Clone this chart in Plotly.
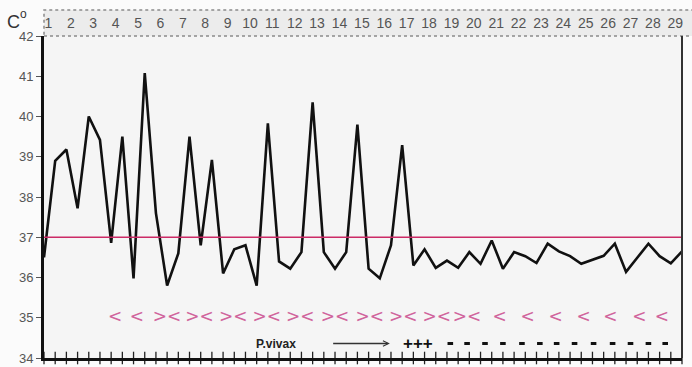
import plotly.graph_objects as go

# ---- data ----
reading_index = list(range(58))  # two readings per day, 29 days
temperature = [36.5, 38.9, 39.18, 37.72, 40.0, 39.42, 36.86, 39.5, 35.98, 41.08,
               37.6, 35.8, 36.6, 39.5, 36.8, 38.92, 36.1, 36.7, 36.8, 35.8,
               39.83, 36.4, 36.22, 36.63, 40.35, 36.63, 36.22, 36.63, 39.8, 36.22,
               35.98, 36.8, 39.29, 36.3, 36.7, 36.24, 36.42, 36.24, 36.63, 36.34,
               36.92, 36.22, 36.63, 36.53, 36.36, 36.84, 36.65, 36.53, 36.34, 36.44,
               36.54, 36.84, 36.14, 36.49, 36.84, 36.53, 36.35, 36.65]
normal_temp = 37
days = list(range(1, 30))
day_tick_pos = [2 * (d - 1) + 0.4 for d in days]
y_ticks = [34, 35, 36, 37, 38, 39, 40, 41, 42]

symbol_x = [6.35, 8.3, 11.0, 13.9, 16.9, 19.9, 22.9, 26.0, 29.1, 32.1,
            35.1, 37.8, 40.7, 43.2, 45.7, 48.2, 50.6, 53.2, 55.2]
symbol_text = ["<", "<"] + ["><"] * 10 + ["<"] * 7
symbol_level = 35

parasite_level = 34.36
parasite_label = "P.vivax"
parasite_label_x = 20.7
arrow_from_x, arrow_to_x = 25.7, 30.9
plus_text = "+++"
plus_x = 33.4
negative_x = [36.3, 37.8, 39.4, 41.0, 42.7, 44.3, 45.8, 47.4, 49.1, 50.8, 52.4, 54.0, 55.5]

fig = go.Figure()

# bottom axis cross ticks
fig.add_trace(go.Scatter(
    x=reading_index, y=[34] * len(reading_index), mode="markers",
    marker=dict(symbol="line-ns", size=9, line=dict(color="#222", width=1.3)),
    cliponaxis=False, hoverinfo="skip", showlegend=False))

# temperature curve
fig.add_trace(go.Scatter(
    x=reading_index, y=temperature, mode="lines",
    line=dict(color="#111", width=2.6), showlegend=False))

# symptom symbols
fig.add_trace(go.Scatter(
    x=symbol_x, y=[symbol_level] * len(symbol_x), mode="text",
    text=symbol_text, textfont=dict(color="#d0649c", size=17, family="DejaVu Sans"),
    textposition="middle center", showlegend=False, hoverinfo="skip"))

# negative smears
fig.add_trace(go.Scatter(
    x=negative_x, y=[parasite_level] * len(negative_x), mode="markers",
    marker=dict(symbol="line-ew", size=4, line=dict(color="#111", width=3)),
    showlegend=False, hoverinfo="skip"))

# dummy trace for top axis
fig.add_trace(go.Scatter(x=[0, 57], y=[None, None], xaxis="x2", showlegend=False))

fig.add_annotation(x=parasite_label_x, y=parasite_level, text="<b>" + parasite_label + "</b>",
                   showarrow=False, font=dict(size=12, color="#222", family="Liberation Sans"))
fig.add_annotation(x=plus_x, y=parasite_level, text="<b>" + plus_text + "</b>",
                   showarrow=False, font=dict(size=17, color="#111", family="Liberation Sans"))
fig.add_annotation(x=arrow_to_x, y=parasite_level, ax=arrow_from_x, ay=parasite_level,
                   axref="x", ayref="y", xref="x", yref="y", text="",
                   showarrow=True, arrowhead=5, arrowsize=0.8, arrowwidth=1.4, arrowcolor="#333")

# unit label: "C" with a raised degree circle
plot_w, plot_h = 638, 322
fig.add_annotation(x=(13 - 44) / plot_w, y=1 + (36 - 22) / plot_h, xref="paper", yref="paper",
                   xanchor="center", yanchor="middle", text="C", showarrow=False,
                   font=dict(size=18, color="#333", family="Liberation Sans"))
fig.add_annotation(x=(23 - 44) / plot_w, y=1 + (36 - 14) / plot_h, xref="paper", yref="paper",
                   xanchor="center", yanchor="middle", text="o", showarrow=False,
                   font=dict(size=12, color="#333", family="Liberation Sans"))

# header band
band_top = 1 + 26 / plot_h
fig.add_shape(type="rect", xref="paper", yref="paper", x0=0, x1=1.03, y0=1, y1=band_top,
              fillcolor="#ececec", line=dict(color="#8a8a8a", width=1.5, dash="dot"), layer="below")
# normal line
fig.add_shape(type="line", xref="paper", yref="y", x0=0, x1=1, y0=normal_temp, y1=normal_temp,
              line=dict(color="#cc2a66", width=1.5))
# right border
fig.add_shape(type="line", xref="paper", yref="paper", x0=1, x1=1, y0=0, y1=1,
              line=dict(color="#333", width=2))

fig.update_layout(
    width=692, height=367,
    margin=dict(l=44, r=10, t=36, b=9, autoexpand=False),
    paper_bgcolor="#fbfbfb", plot_bgcolor="#f5f5f5",
    xaxis=dict(range=[0, 57], showgrid=False, zeroline=False, showticklabels=False,
               showline=True, linecolor="#111", linewidth=3, ticks="", automargin=False),
    xaxis2=dict(range=[0, 57], overlaying="x", side="top", showgrid=False, zeroline=False,
                tickvals=day_tick_pos, ticktext=[str(d) for d in days],
                ticks="outside", ticklen=1, tickcolor="rgba(0,0,0,0)", automargin=False,
                tickfont=dict(size=14, color="#555", family="Liberation Sans"), showline=False),
    yaxis=dict(range=[34, 42], tickvals=y_ticks, showgrid=False, zeroline=False,
               showline=True, linecolor="#111", linewidth=3, ticks="outside", ticklen=5,
               tickcolor="#555", tickwidth=1, automargin=False,
               tickfont=dict(size=13, color="#555", family="Liberation Sans")),
    font=dict(family="Liberation Sans"),
)

fig.write_html("out.html", config={"displayModeBar": False})

# remove the browser's default page margin so the figure sits at the window origin
with open("out.html", "r", encoding="utf-8") as f:
    html = f.read()
html = html.replace("<head>", "<head><style>html,body{margin:0;padding:0;overflow:hidden;}</style>", 1)
with open("out.html", "w", encoding="utf-8") as f:
    f.write(html)
